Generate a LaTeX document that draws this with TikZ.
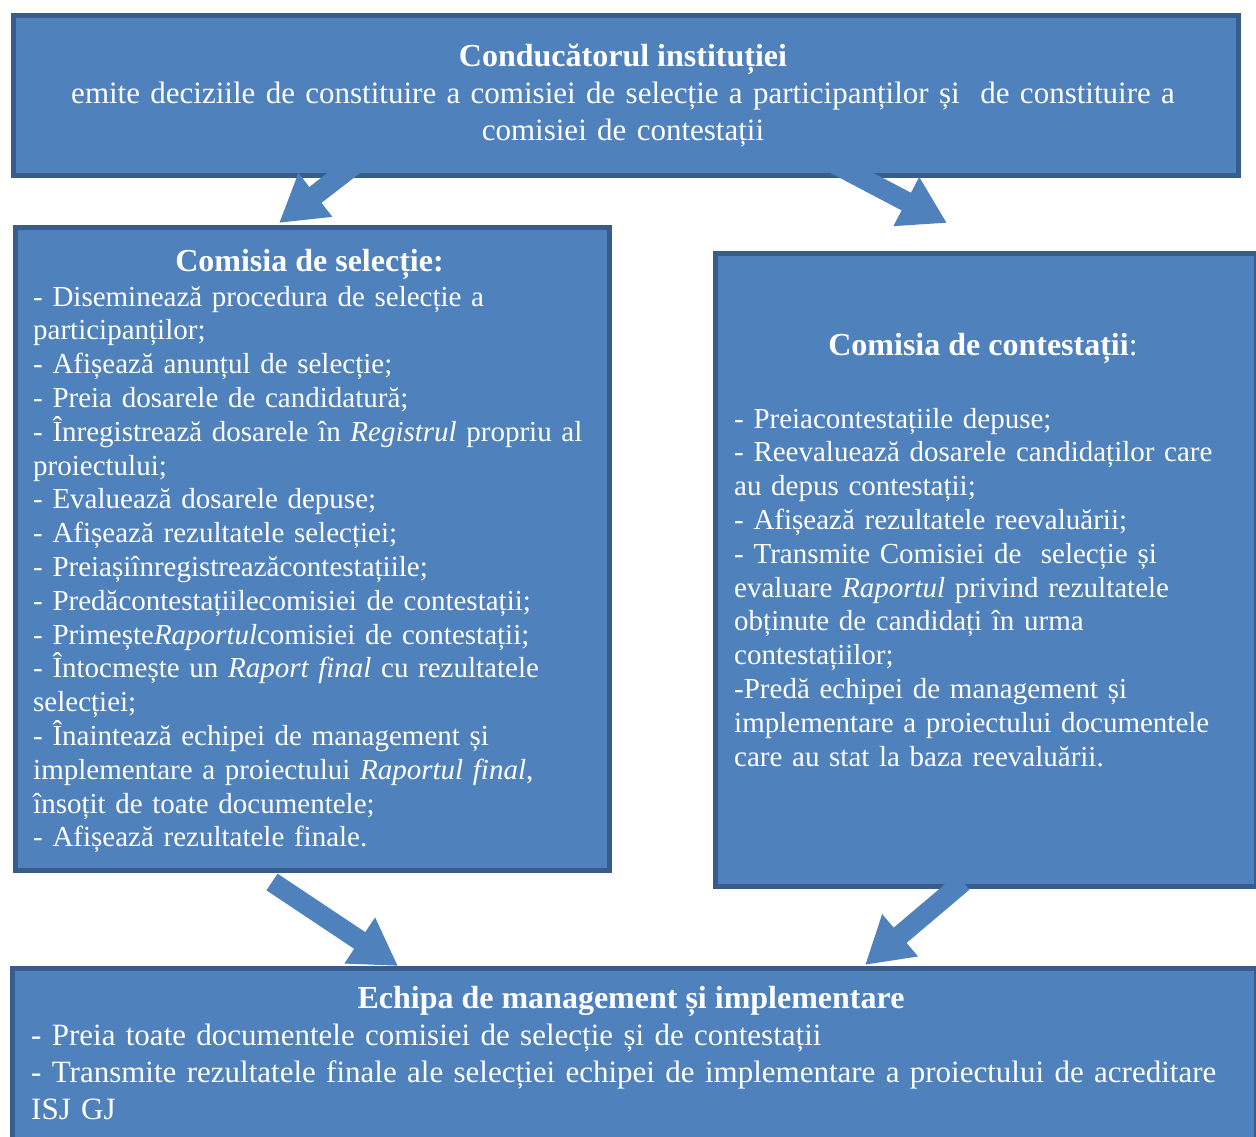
\documentclass[tikz,border=0pt]{standalone}
\usepackage{fontspec}
\setmainfont{Liberation Serif}
\usetikzlibrary{arrows.meta}

\definecolor{boxfill}{HTML}{4F81BD}
\definecolor{boxline}{HTML}{385D8A}

\tikzset{
  box/.style={draw=boxline, fill=boxfill, line width=5pt, inner sep=0pt, anchor=north west},
  txt/.style={text=white, inner sep=0pt, font=\fontsize{29}{33.8}\selectfont},
  wide/.style={txt, font=\fontsize{31}{37}\selectfont},
  title/.style={txt, anchor=base, font=\fontsize{32}{37}\selectfont\bfseries},
  list/.style={txt, align=left, text width=#1, anchor=base west},
  bigarrow/.style={draw=boxfill, line width=20pt, -{Triangle[length=46pt,width=52pt]}},
}

\begin{document}
\begin{tikzpicture}[x=1pt, y=-1pt]
		%%%%% START %%%%%
		\useasboundingbox (0,0) rectangle (1256,1136);
		
		% boxes
		\node[box, minimum width=1225pt, minimum height=160pt] (head) at (10.5,12.5) {};
		\node[box, minimum width=594pt, minimum height=643pt] (sel) at (12.5,224.5) {};
		\node[box, minimum width=541pt, minimum height=633pt] (cont) at (712.5,250.5) {};
		\node[box, minimum width=1244pt, minimum height=200pt] (team) at (9.5,965.5) {};
		
		% texts of the head box
		\node[title] (headtitle) at (623,66) {Conducătorul instituției};
		\node[wide, align=center, text width=1200pt, anchor=base] (headtxt) at (623,103)
		{emite deciziile de constituire a comisiei de selecție a participanților și\ \ de constituire a\\
		comisiei de contestații};
		
		% texts of the selection box
		\node[title] (seltitle) at (309.5,271) {Comisia de selecție:};
		\node[list=570pt] (seltxt) at (33,306)
		{- Diseminează procedura de selecție a\\
		participanților;\\
		- Afișează anunțul de selecție;\\
		- Preia dosarele de candidatură;\\
		- Înregistrează dosarele în \textit{Registrul} propriu al\\
		proiectului;\\
		- Evaluează dosarele depuse;\\
		- Afișează rezultatele selecției;\\
		- Preiașiînregistreazăcontestațiile;\\
		- Predăcontestațiilecomisiei de contestații;\\
		- Primește\textit{Raportul}comisiei de contestații;\\
		- Întocmește un \textit{Raport final} cu rezultatele\\
		selecției;\\
		- Înaintează echipei de management și\\
		implementare a proiectului \textit{Raportul final},\\
		însoțit de toate documentele;\\
		- Afișează rezultatele finale.};
		
		% texts of the appeals box
		\node[title] (conttitle) at (983,355) {Comisia de contestații\mdseries:};
		\node[list=515pt] (conttxt) at (734,428)
		{- Preiacontestațiile depuse;\\
		- Reevaluează dosarele candidaților care\\
		au depus contestații;\\
		- Afișează rezultatele reevaluării;\\
		- Transmite Comisiei de\ \ selecție și\\
		evaluare \textit{Raportul} privind rezultatele\\
		obținute de candidați în urma\\
		contestațiilor;\\
		-Predă echipei de management și\\
		implementare a proiectului documentele\\
		care au stat la baza reevaluării.};
		
		% texts of the team box
		\node[title] (teamtitle) at (631,1008) {Echipa de management și implementare};
		\node[list=1215pt, wide] (teamtxt) at (31,1045)
		{- Preia toate documentele comisiei de selecție și de contestații\\
		- Transmite rezultatele finale ale selecției echipei de implementare a proiectului de acreditare\\
		ISJ GJ};
		
		% arrows
		\coordinate (a1) at (358,162);
		\coordinate (b1) at (279,223);
		\coordinate (a2) at (833,163);
		\coordinate (b2) at (947,223);
		\coordinate (a3) at (272,882);
		\coordinate (b3) at (398,966);
		\coordinate (a4) at (963,882);
		\coordinate (b4) at (865,965);
		\draw[bigarrow] (a1) -- (b1);
		\draw[bigarrow] (a2) -- (b2);
		\draw[bigarrow] (a3) -- (b3);
		\draw[bigarrow] (a4) -- (b4);
		
		%%%%% END %%%%%
\end{tikzpicture}
\end{document}
